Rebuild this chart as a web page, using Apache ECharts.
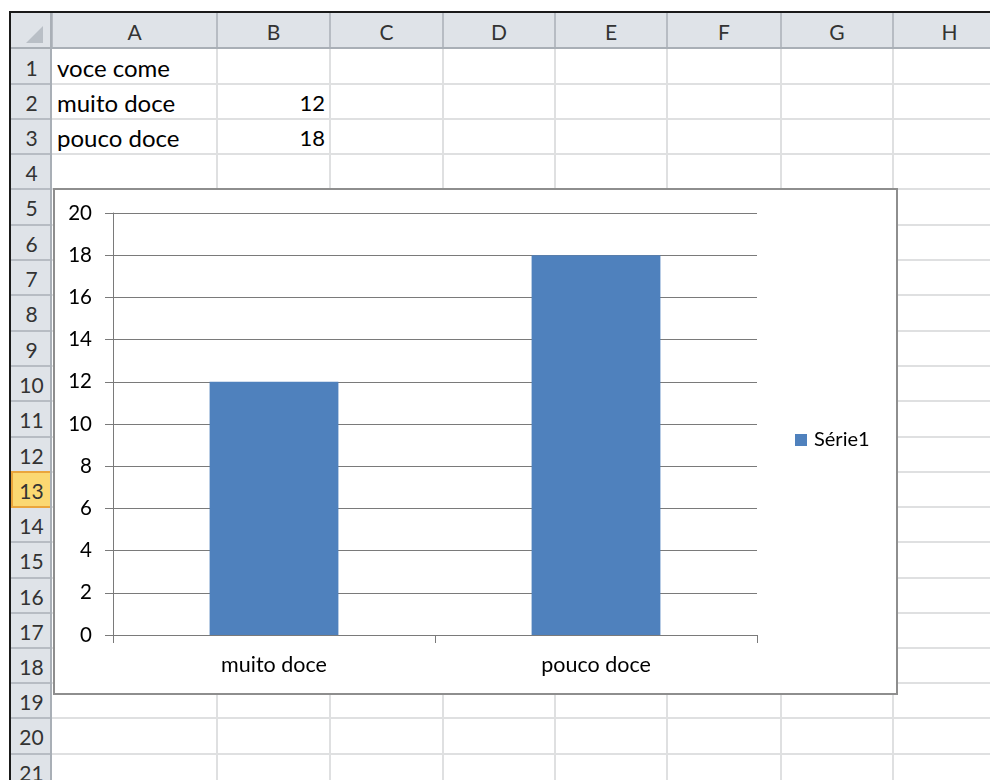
<!DOCTYPE html>
<html><head><meta charset="utf-8">
<script src="https://cdn.jsdelivr.net/npm/echarts/dist/echarts.min.js"></script>
<style>
html,body{margin:0;padding:0;background:#fff;}
body{width:990px;height:780px;overflow:hidden;position:relative;font-family:Lato,"Noto Sans",sans-serif;}
.abs{position:absolute;box-sizing:border-box;}
.hdr{position:absolute;box-sizing:border-box;font-size:21px;color:#333;text-align:center;}
.cell{position:absolute;box-sizing:border-box;font-size:24px;color:#000;white-space:nowrap;}
</style></head><body>
<div id="sheet"></div>
<div id="chart" class="abs" style="left:53px;top:188px;width:845px;height:507px;background:#fff"></div>
<div class="abs" style="left:53px;top:188px;width:845px;height:507px;border:2px solid #8e8e8e;pointer-events:none"></div>
<script>
// ---- data ----
const tableTitle = 'voce come';
const categories = ['muito doce', 'pouco doce'];
const values = [12, 18];
const seriesName = 'Série1';
const columnLetters = ['A', 'B', 'C', 'D', 'E', 'F', 'G', 'H'];
const rowCount = 21;
const yMin = 0, yMax = 20, yStep = 2;

// ---- spreadsheet layout ----
const colX = [11, 52, 217, 330, 443, 555, 667, 781, 893, 1006];
const rowY = [13, 49, 84, 119, 154, 189, 225, 260, 295, 331, 366, 401, 437, 472, 507, 542, 578, 613, 648, 683, 718, 754, 789];
const selectedRow = 13;
const sheet = document.getElementById('sheet');
function add(html) { sheet.insertAdjacentHTML('beforeend', html); }

// outer frame
add(`<div class="abs" style="left:9px;top:11px;width:990px;height:2px;background:#1a1a1a"></div>`);
add(`<div class="abs" style="left:9px;top:11px;width:2px;height:780px;background:#1a1a1a"></div>`);
// header backgrounds
add(`<div class="abs" style="left:11px;top:13px;width:990px;height:36px;background:#dfe3e8"></div>`);
add(`<div class="abs" style="left:11px;top:49px;width:41px;height:740px;background:#dfe3e8"></div>`);
// corner triangle
add(`<div class="abs" style="left:26px;top:26px;width:0;height:0;border-left:17px solid transparent;border-bottom:17px solid #b9bfc6"></div>`);
// cell grid lines
for (let i = 2; i < colX.length - 1; i++) {
  add(`<div class="abs" style="left:${colX[i]-1}px;top:49px;width:2px;height:740px;background:#dfe0e1"></div>`);
}
for (let r = 2; r < rowY.length; r++) {
  add(`<div class="abs" style="left:52px;top:${rowY[r]-1}px;width:950px;height:2px;background:#dfe0e1"></div>`);
}
// column header separators & labels
for (let i = 1; i < colX.length - 1; i++) {
  add(`<div class="abs" style="left:${colX[i]-1}px;top:13px;width:2px;height:36px;background:#b7bcc3"></div>`);
}
columnLetters.forEach((c, i) => {
  add(`<div class="hdr" style="left:${colX[i+1]}px;top:13px;width:${colX[i+2]-colX[i+1]}px;height:36px;line-height:38px">${c}</div>`);
});
add(`<div class="abs" style="left:11px;top:47px;width:990px;height:2px;background:#a9afb6"></div>`);
// row headers
for (let r = 1; r <= rowCount; r++) {
  const y0 = rowY[r], y1 = rowY[r+1];
  if (r === selectedRow) {
    add(`<div class="abs" style="left:11px;top:${y0-1}px;width:41px;height:${y1-y0+2}px;background:#fbd872;border:2px solid #eaa53c"></div>`);
  } else {
    add(`<div class="abs" style="left:11px;top:${y1-1}px;width:41px;height:2px;background:#b7bcc3"></div>`);
  }
  add(`<div class="hdr" style="left:11px;top:${y0}px;width:41px;height:${y1-y0}px;line-height:${y1-y0+2}px">${r}</div>`);
}
add(`<div class="abs" style="left:50px;top:13px;width:2px;height:780px;background:#a9afb6"></div>`);

// cell contents
function cellText(col, row, text, right) {
  const x0 = colX[col], x1 = colX[col+1], y0 = rowY[row], y1 = rowY[row+1];
  const align = right ? 'right' : 'left';
  const pad = right ? 'padding-right:5px;font-size:22px' : 'padding-left:5px';
  add(`<div class="cell" style="left:${x0}px;top:${y0}px;width:${x1-x0}px;height:${y1-y0}px;line-height:${y1-y0+2}px;text-align:${align};${pad}">${text}</div>`);
}
cellText(1, 1, tableTitle, false);
categories.forEach((c, i) => {
  cellText(1, i + 2, c, false);
  cellText(2, i + 2, values[i], true);
});

// ---- chart ----
const chart = echarts.init(document.getElementById('chart'), null, { renderer: 'canvas' });
const gray = '#7a7a7a';
chart.setOption({
  animation: false,
  textStyle: { fontFamily: 'Lato' },
  grid: { left: 60, top: 25, width: 644, height: 422, containLabel: false },
  legend: {
    show: true, left: 742, top: 242, padding: 0,
    icon: 'rect', itemWidth: 12, itemHeight: 12,
    textStyle: { fontSize: 20, color: '#000', padding: [0, 0, 0, 2] },
    data: [seriesName]
  },
  xAxis: {
    type: 'category', data: categories, boundaryGap: true,
    axisLine: { show: true, lineStyle: { color: gray, width: 1 } },
    axisTick: { show: true, length: 8, alignWithLabel: false, lineStyle: { color: gray, width: 1 } },
    axisLabel: { fontSize: 21.5, color: '#000', margin: 19 }
  },
  yAxis: {
    type: 'value', min: yMin, max: yMax, interval: yStep,
    axisLine: { show: true, lineStyle: { color: gray, width: 1 } },
    axisTick: { show: true, length: 8, lineStyle: { color: gray, width: 1 } },
    axisLabel: { fontSize: 20.5, color: '#000', margin: 21 },
    splitLine: { show: true, lineStyle: { color: gray, width: 1 } }
  },
  series: [{
    name: seriesName, type: 'bar', data: values,
    barCategoryGap: '60%',
    itemStyle: { color: '#4f81bd' }
  }]
});
</script>
</body></html>
